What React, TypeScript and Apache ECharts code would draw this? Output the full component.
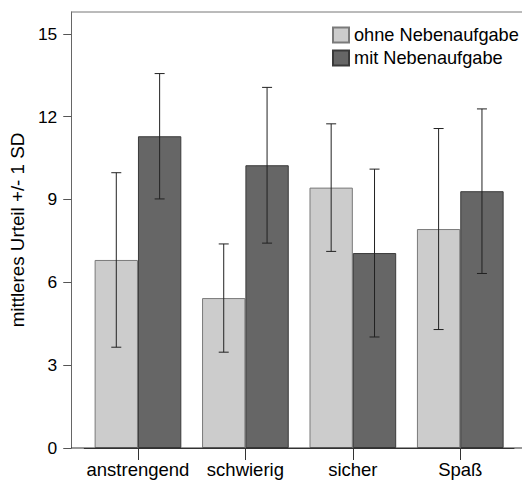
import React, { useEffect, useRef } from "react";
import * as echarts from "echarts";

const categories = ["anstrengend", "schwierig", "sicher", "Spaß"];
const seriesNames = ["ohne Nebenaufgabe", "mit Nebenaufgabe"];
const ohneMean = [6.81, 5.43, 9.43, 7.93];
const ohneSD = [3.16, 1.96, 2.31, 3.64];
const mitMean = [11.29, 10.24, 7.06, 9.3];
const mitSD = [2.27, 2.82, 3.04, 2.98];
const yTicks = [0, 3, 6, 9, 12, 15];

const FONT = '"Liberation Sans", Arial, Helvetica, sans-serif';
const BAR_FRAC = 0.4035;

function errData(means: number[], sds: number[]) {
  return means.map((m, i) => [i, m - sds[i], m + sds[i]]);
}

function makeErrSeries(name: string, means: number[], sds: number[], sign: number) {
  return {
    type: "custom",
    name,
    z: 5,
    data: errData(means, sds),
    encode: { x: 0, y: [1, 2] },
    renderItem: (params: any, api: any) => {
      const x = api.value(0);
      const lo = api.coord([x, api.value(1)]);
      const hi = api.coord([x, api.value(2)]);
      const bw = api.size([1, 0])[0];
      const cx = lo[0] + sign * bw * BAR_FRAC / 2;
      const cap = 5;
      const style = { stroke: "#222", lineWidth: 1 };
      return {
        type: "group",
        children: [
          { type: "line", shape: { x1: cx, y1: lo[1], x2: cx, y2: hi[1] }, style },
          { type: "line", shape: { x1: cx - cap, y1: hi[1], x2: cx + cap, y2: hi[1] }, style },
          { type: "line", shape: { x1: cx - cap, y1: lo[1], x2: cx + cap, y2: lo[1] }, style },
        ],
      };
    },
  };
}

export default function App() {
  const ref = useRef<HTMLDivElement>(null);
  useEffect(() => {
    if (!ref.current) return;
    const chart = echarts.init(ref.current, null, { renderer: "svg" });
    const gridLeft = 84;
    const gridRight = 8;
    const gridTop = 12;
    const gridBottom = 33;
    const W = 522;
    const H = 481;
    const axisX = 71;
    chart.setOption({
      animation: false,
      backgroundColor: "#fff",
      textStyle: { fontFamily: FONT },
      grid: { left: gridLeft, right: gridRight, top: gridTop, bottom: gridBottom },
      legend: {
        data: seriesNames,
        orient: "vertical",
        left: 332,
        top: 26,
        padding: 0,
        itemWidth: 16,
        itemHeight: 15,
        itemGap: 5,
        icon: "rect",
        textStyle: { fontSize: 18.2, color: "#000", fontFamily: FONT },
      },
      xAxis: {
        type: "category",
        data: categories,
        axisLine: { show: true, lineStyle: { color: "#333", width: 1 } },
        axisTick: { show: true, alignWithLabel: true, length: 12, lineStyle: { color: "#333" } },
        axisLabel: { interval: 0, fontSize: 18.5, color: "#000", margin: 12, fontFamily: FONT },
        splitLine: { show: false },
      },
      yAxis: {
        type: "value",
        min: 0,
        max: 15.79,
        interval: 3,
        offset: gridLeft - axisX,
        name: "mittleres Urteil +/- 1 SD",
        nameLocation: "middle",
        nameGap: 42,
        nameTextStyle: { fontSize: 18.8, color: "#000", fontFamily: FONT },
        axisLine: { show: true, lineStyle: { color: "#666", width: 1 } },
        axisTick: { show: true, length: 8, customValues: yTicks, lineStyle: { color: "#555" } },
        axisLabel: { fontSize: 17.4, color: "#000", margin: 14, customValues: yTicks, fontFamily: FONT },
        splitLine: { show: false },
      },
      graphic: [
        {
          type: "line",
          shape: { x1: axisX, y1: gridTop, x2: W, y2: gridTop },
          style: { stroke: "#777", lineWidth: 1 },
          z: 10,
        },
        {
          type: "line",
          shape: { x1: axisX, y1: H - gridBottom, x2: W, y2: H - gridBottom },
          style: { stroke: "#333", lineWidth: 1 },
          z: 10,
        },
      ],
      series: [
        {
          type: "bar",
          name: seriesNames[0],
          data: ohneMean,
          barWidth: (BAR_FRAC * 100).toFixed(2) + "%",
          barGap: "0%",
          itemStyle: { color: "#cccccc", borderColor: "#7a7a7a", borderWidth: 1 },
        },
        {
          type: "bar",
          name: seriesNames[1],
          data: mitMean,
          barWidth: (BAR_FRAC * 100).toFixed(2) + "%",
          barGap: "0%",
          itemStyle: { color: "#666666", borderColor: "#3a3a3a", borderWidth: 1 },
        },
        makeErrSeries("err0", ohneMean, ohneSD, -1),
        makeErrSeries("err1", mitMean, mitSD, 1),
      ],
    });
    return () => chart.dispose();
  }, []);
  return (
    <div
      ref={ref}
      style={{ position: "fixed", left: 0, top: 0, width: 522, height: 481, background: "#fff" }}
    />
  );
}
